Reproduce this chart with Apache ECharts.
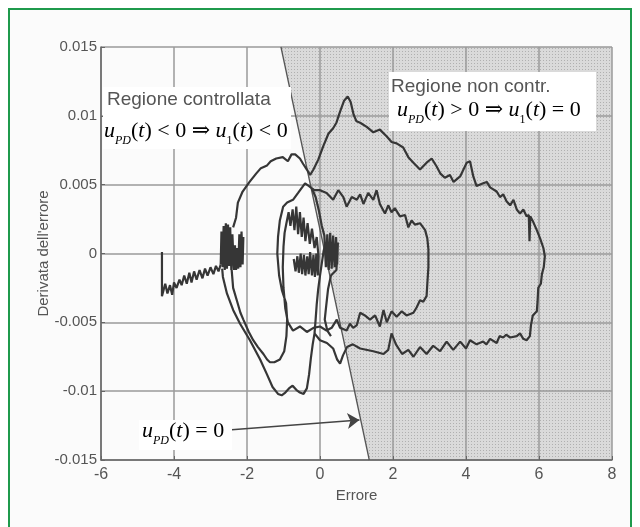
<!DOCTYPE html>
<html>
<head>
<meta charset="utf-8">
<script src="https://cdn.jsdelivr.net/npm/echarts@6/dist/echarts.min.js"></script>
<style>
  html, body { margin: 0; padding: 0; background: #ffffff; }
  #chart { width: 640px; height: 527px; }
</style>
</head>
<body>
<div id="chart"></div>
<script>
// assi
var xTicks = [-6, -4, -2, 0, 2, 4, 6, 8];
var yTicks = ['-0.015', '-0.01', '-0.005', '0', '0.005', '0.01', '0.015'];

// retta u_PD(t) = 0 (confine della regione ombreggiata)
var boundaryX = [-1.07, 1.35];
var boundaryY = [0.015, -0.015];

// freccia dell'etichetta u_PD(t) = 0
var arrowFrom = [-2.42, -0.0128];
var arrowTo = [1.08, -0.0121];

// traiettoria: coda iniziale
var tail = [[-4.33,0.0001],[-4.33,-0.0031],[-4.29,-0.0030],[-4.24,-0.0022],[-4.18,-0.0029],[-4.11,-0.0023],[-4.05,-0.0030],[-4.00,-0.0021],[-3.93,-0.0025],[-3.85,-0.0019],[-3.79,-0.0023],[-3.72,-0.0016],[-3.65,-0.0022],[-3.58,-0.0014],[-3.52,-0.0021],[-3.45,-0.0013],[-3.38,-0.0019],[-3.30,-0.0012],[-3.22,-0.0018],[-3.15,-0.0011],[-3.08,-0.0016],[-3.00,-0.0010],[-2.92,-0.0015],[-2.85,-0.0009],[-2.78,-0.0013],[-2.72,-0.0008]];

// oscillazione fitta vicino a -2.4
var block1 = [[-2.72,-0.0008],[-2.70,0.0016],[-2.67,-0.0010],[-2.64,0.0020],[-2.61,-0.0012],[-2.58,0.0022],[-2.55,-0.0011],[-2.52,0.0021],[-2.49,-0.0009],[-2.46,0.0019],[-2.43,-0.0012],[-2.40,0.0014],[-2.36,-0.0012],[-2.33,0.0006],[-2.30,-0.0012],[-2.27,0.0004],[-2.24,-0.0011],[-2.21,0.0014],[-2.18,-0.0010],[-2.15,0.0016],[-2.12,-0.0008],[-2.10,0.0012]];

// ciclo esterno
var outerLoop = [[-2.38,0.0019],[-2.30,0.0026],[-2.25,0.0037],[-2.12,0.0045],[-1.93,0.0052],[-1.75,0.0058],[-1.62,0.0062],[-1.45,0.0064],[-1.35,0.0067],[-1.20,0.0069],[-1.02,0.0070],[-0.88,0.0067],[-0.78,0.0072],[-0.68,0.0072],[-0.55,0.0069],[-0.46,0.0065],[-0.36,0.0061],[-0.27,0.0057],
  [-0.18,0.0061],[-0.05,0.0068],[0.09,0.0078],[0.23,0.0087],[0.36,0.0091],[0.45,0.0095],[0.55,0.0103],[0.66,0.0111],[0.76,0.0114],[0.84,0.0110],[0.92,0.0101],[1.00,0.0096],[1.10,0.0095],[1.28,0.0092],[1.46,0.0088],[1.64,0.0090],[1.83,0.0085],[1.96,0.0081],[2.10,0.0080],[2.28,0.0077],[2.42,0.0070],[2.56,0.0066],[2.74,0.0061],[2.92,0.0066],[3.06,0.0069],[3.20,0.0063],[3.30,0.0058],[3.42,0.0055],[3.56,0.0057],[3.66,0.0052],[3.84,0.0056],[4.02,0.0066],[4.11,0.0067],[4.20,0.0056],[4.29,0.0049],[4.47,0.0051],[4.57,0.0052],[4.66,0.0048],[4.84,0.0045],[4.93,0.0041],[5.02,0.0043],[5.11,0.0038],[5.21,0.0035],[5.30,0.0039],[5.39,0.0032],[5.48,0.0029],[5.57,0.0032],[5.66,0.0027],[5.72,0.0028],[5.74,0.0009],[5.76,0.0027],[5.84,0.0023],[5.94,0.0017],[6.03,0.0011],[6.12,0.0004],[6.16,-0.0002],[6.13,-0.0010],[6.08,-0.0015],[6.05,-0.0022],[5.98,-0.0025],[5.96,-0.0035],[5.94,-0.0042],[5.83,-0.0045],[5.78,-0.0052],[5.75,-0.0060],[5.66,-0.0063],
  [5.57,-0.0062],[5.48,-0.0058],[5.39,-0.0060],[5.21,-0.0061],[5.10,-0.0059],[5.02,-0.0061],[4.92,-0.0060],[4.84,-0.0065],[4.66,-0.0062],[4.56,-0.0066],[4.47,-0.0064],[4.29,-0.0066],[4.11,-0.0063],[4.00,-0.0069],[3.84,-0.0064],[3.65,-0.0070],[3.47,-0.0064],[3.29,-0.0071],[3.10,-0.0067],[2.92,-0.0073],[2.74,-0.0068],[2.56,-0.0075],[2.42,-0.0070],[2.25,-0.0073],[2.08,-0.0066],[1.96,-0.0058],[1.87,-0.0070],[1.74,-0.0073],[1.46,-0.0071],[1.10,-0.0069],[0.90,-0.0066],[0.74,-0.0068],[0.63,-0.0074],[0.55,-0.0080],[0.47,-0.0077],[0.36,-0.0069],[0.19,-0.0065],[0.00,-0.0063],[-0.15,-0.0058],
  [-0.20,-0.0066],[-0.25,-0.0076],[-0.30,-0.0088],[-0.36,-0.0098],[-0.45,-0.0102],[-0.55,-0.0101],[-0.65,-0.0099],[-0.75,-0.0096],[-0.85,-0.0098],[-0.95,-0.0101],[-1.05,-0.0103],[-1.15,-0.0102],[-1.30,-0.0097],[-1.45,-0.0088],[-1.64,-0.0077],[-1.92,-0.0063],[-2.19,-0.0051],[-2.38,-0.0041],[-2.55,-0.0029],[-2.66,-0.0017],[-2.68,-0.0011]];

// ciclo intermedio + ciclo interno
var middleLoop = [[-2.42,-0.0012],[-2.38,-0.0025],[-2.28,-0.0034],[-2.18,-0.0043],[-2.10,-0.0048],[-1.95,-0.0057],[-1.83,-0.0063],[-1.70,-0.0068],[-1.55,-0.0073],[-1.45,-0.0077],[-1.37,-0.0079],[-1.25,-0.0079],[-1.10,-0.0077],[-0.98,-0.0071],[-0.92,-0.0060],[-0.90,-0.0048],[-0.93,-0.0036],[-1.04,-0.0027],[-1.12,-0.0016],[-1.17,0.0000],[-1.15,0.0012],[-1.10,0.0024],[-1.01,0.0034],[-0.90,0.0037],[-0.74,0.0039],[-0.60,0.0044],[-0.49,0.0048],[-0.41,0.0051],[-0.30,0.0049],[-0.16,0.0046],
  [0.00,0.0046],[0.18,0.0044],[0.36,0.0039],[0.50,0.0046],[0.64,0.0041],[0.73,0.0034],[0.87,0.0041],[1.01,0.0039],[1.10,0.0043],[1.19,0.0036],[1.32,0.0044],[1.46,0.0039],[1.55,0.0046],[1.64,0.0036],[1.78,0.0029],[1.87,0.0035],[1.96,0.0030],[2.05,0.0033],[2.19,0.0027],[2.33,0.0028],[2.42,0.0019],[2.51,0.0024],[2.60,0.0021],[2.74,0.0022],[2.88,0.0017],[2.94,0.0011],[2.97,0.0003],[2.97,-0.0010],[2.94,-0.0022],[2.92,-0.0031],[2.83,-0.0035],
  [2.74,-0.0034],[2.65,-0.0039],[2.56,-0.0043],[2.37,-0.0045],[2.24,-0.0042],[2.10,-0.0046],[1.96,-0.0042],[1.83,-0.0050],[1.74,-0.0041],[1.64,-0.0053],[1.51,-0.0045],[1.37,-0.0048],[1.23,-0.0045],[1.10,-0.0043],[1.01,-0.0052],[0.91,-0.0054],[0.82,-0.0051],[0.73,-0.0056],[0.55,-0.0054],[0.46,-0.0048],[0.32,-0.0054],[0.18,-0.0056],[0.00,-0.0053],[-0.18,-0.0054],[-0.36,-0.0057],[-0.55,-0.0053],[-0.74,-0.0056],[-0.88,-0.0050],
  [-0.95,-0.0040],[-1.00,-0.0025],[-1.02,-0.0010],[-1.00,0.0005],[-0.97,0.0015],[-0.92,0.0022],[-0.86,0.0030],[-0.81,0.0020],[-0.75,0.0032],[-0.70,0.0017],[-0.65,0.0034],[-0.60,0.0014],[-0.55,0.0030],[-0.50,0.0012],[-0.45,0.0026],[-0.40,0.0009],[-0.34,0.0022],[-0.28,0.0007],[-0.22,0.0018],[-0.15,0.0004],[-0.09,0.0012],[-0.04,-0.0002],
  [-0.06,-0.0016],[-0.10,0.0000],[-0.14,-0.0017],[-0.18,-0.0001],[-0.22,-0.0016],[-0.27,0.0001],[-0.31,-0.0015],[-0.35,-0.0002],[-0.40,-0.0016],[-0.44,-0.0001],[-0.49,-0.0015],[-0.53,0.0000],[-0.58,-0.0014],[-0.62,-0.0002],[-0.67,-0.0013],[-0.72,-0.0004]];

// tratto che scende vicino a x = 0.2
var rightStrand = [[-0.22,0.0047],[-0.12,0.0041],[-0.03,0.0031],[0.05,0.0020],[0.12,0.0013],[0.16,-0.0010],[0.20,0.0014],[0.24,-0.0012],[0.28,0.0015],[0.32,-0.0011],[0.36,0.0013],[0.40,-0.0010],[0.44,0.0012],[0.47,-0.0008],[0.49,0.0008],[0.45,-0.0012],[0.30,-0.0016],[0.22,-0.0026],[0.17,-0.0038],[0.13,-0.0048],[0.20,-0.0056],[0.30,-0.0060]];

// risalita verticale vicino a x = 0
var riseUp = [[-0.15,-0.0058],[-0.12,-0.0048],[-0.09,-0.0037],[-0.05,-0.0026],[0.00,-0.0016],[0.05,-0.0007],[0.10,0.0002],[0.16,0.0008]];

var strokes = [tail, block1, outerLoop, middleLoop, rightStrand, riseUp];

var chart = echarts.init(document.getElementById('chart'));

// retino a puntini per la regione non controllata
var pat = document.createElement('canvas');
pat.width = 3; pat.height = 3;
var pctx = pat.getContext('2d');
pctx.fillStyle = '#dadada';
pctx.fillRect(0, 0, 3, 3);
pctx.fillStyle = '#b0b0b0';
pctx.fillRect(0, 0, 1, 1);

var shadeX = [boundaryX[0], 8, 8, boundaryX[1]];
var shadeY = [boundaryY[0], 0.015, -0.015, boundaryY[1]];

var curveSeries = strokes.map(function (pts) {
    return {
        type: 'line',
        data: pts,
        showSymbol: false,
        symbol: 'none',
        smooth: false,
        lineStyle: { color: '#363636', width: 2.2 },
        z: 5,
        silent: true,
        animation: false
    };
});

var sans = '"Liberation Sans", Arial, sans-serif';
var serif = '"Liberation Serif", "DejaVu Serif", serif';
var mathRich = {
    i: { fontFamily: serif, fontStyle: 'italic', fontSize: 22, lineHeight: 27, verticalAlign: 'top', color: '#444' },
    n: { fontFamily: serif, fontSize: 22, lineHeight: 27, verticalAlign: 'top', color: '#444' },
    s: { fontFamily: serif, fontStyle: 'italic', fontSize: 12, lineHeight: 12, verticalAlign: 'bottom', color: '#444' },
    d: { fontFamily: serif, fontSize: 12, lineHeight: 12, verticalAlign: 'bottom', color: '#444' }
};

var option = {
    backgroundColor: '#ffffff',
    animation: false,
    grid: { left: 101, right: 28, top: 47, bottom: 67 },
    xAxis: {
        type: 'value', min: xTicks[0], max: xTicks[xTicks.length - 1], interval: 2,
        name: 'Errore', nameLocation: 'middle', nameGap: 26,
        nameTextStyle: { color: '#555', fontSize: 15, fontFamily: sans },
        axisLine: { onZero: false, lineStyle: { color: '#666', width: 1.5 } },
        axisTick: { inside: true, length: 4, lineStyle: { color: '#666' } },
        axisLabel: { color: '#555', fontSize: 16, margin: 7, fontFamily: sans },
        splitLine: { show: true, lineStyle: { color: '#9a9a9a', width: 1.5 } },
        z: 3
    },
    yAxis: {
        type: 'value', min: -0.015, max: 0.015, interval: 0.005,
        name: "Derivata dell'errore", nameLocation: 'middle', nameGap: 50,
        nameMoveOverlap: false,
        nameTextStyle: { color: '#555', fontSize: 15, fontFamily: sans },
        axisLine: { onZero: false, lineStyle: { color: '#666', width: 1.5 } },
        axisTick: { inside: true, length: 4, lineStyle: { color: '#666' } },
        axisLabel: {
            color: '#555', fontSize: 15, margin: 4, fontFamily: sans,
            formatter: function (v) {
                var s = String(+v.toFixed(3));
                return yTicks.indexOf(s) >= 0 ? s : '';
            }
        },
        splitLine: { show: true, lineStyle: { color: '#9a9a9a', width: 1.5 } },
        z: 3
    },
    series: [{
        type: 'custom',
        z: 1,
        silent: true,
        clip: true,
        data: [[0, 0]],
        renderItem: function (params, api) {
            var pts = shadeX.map(function (x, i) { return api.coord([x, shadeY[i]]); });
            return { type: 'polygon', shape: { points: pts }, style: { fill: { image: pat, repeat: 'repeat' } } };
        }
    }, {
        type: 'line',
        data: [[boundaryX[0], boundaryY[0]], [boundaryX[1], boundaryY[1]]],
        showSymbol: false, symbol: 'none',
        lineStyle: { color: '#555', width: 1.3 },
        z: 4, silent: true
    }, {
        type: 'lines',
        coordinateSystem: 'cartesian2d',
        polyline: false,
        symbol: ['none', 'arrow'],
        symbolSize: 12,
        lineStyle: { color: '#444', width: 1.5, opacity: 1 },
        data: [{ coords: [arrowFrom, arrowTo] }],
        z: 6, silent: true
    }].concat(curveSeries),
    graphic: [
        { type: 'rect', z: -20, shape: { x: 9, y: 9, width: 622, height: 540 }, style: { fill: '#fbfbfb', stroke: '#1f9a4c', lineWidth: 2 } },
        { type: 'rect', z: 20, shape: { x: 103, y: 87, width: 188, height: 62 }, style: { fill: '#ffffff' } },
        { type: 'rect', z: 20, shape: { x: 389, y: 72, width: 207, height: 59 }, style: { fill: '#ffffff' } },
        { type: 'rect', z: 20, shape: { x: 139, y: 420, width: 93, height: 30 }, style: { fill: '#ffffff' } },
        { type: 'text', z: 21, x: 107, y: 90, style: { text: 'Regione controllata', font: '19px ' + sans, fill: '#555' } },
        { type: 'text', z: 21, x: 104, y: 120, style: { text: '{i|u}{s|PD}{n|(}{i|t}{n|) < 0 \u21D2 }{i|u}{d|1}{n|(}{i|t}{n|) < 0}', rich: mathRich } },
        { type: 'text', z: 21, x: 391, y: 77, style: { text: 'Regione non contr.', font: '19px ' + sans, fill: '#555' } },
        { type: 'text', z: 21, x: 397, y: 99, style: { text: '{i|u}{s|PD}{n|(}{i|t}{n|) > 0 \u21D2 }{i|u}{d|1}{n|(}{i|t}{n|) = 0}', rich: mathRich } },
        { type: 'text', z: 21, x: 142, y: 420, style: { text: '{i|u}{s|PD}{n|(}{i|t}{n|) = 0}', rich: mathRich } }
    ]
};

chart.setOption(option);
</script>
</body>
</html>
